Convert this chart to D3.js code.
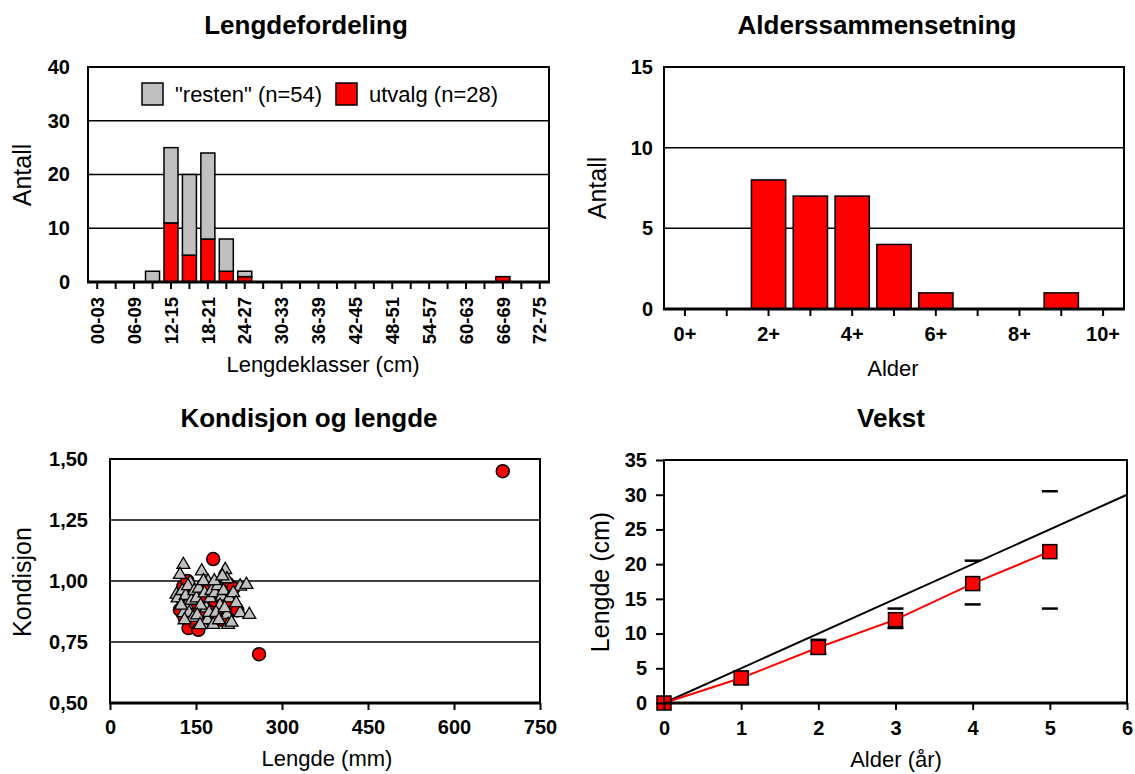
<!DOCTYPE html>
<html>
<head>
<meta charset="utf-8">
<script src="https://cdn.jsdelivr.net/npm/d3@7"></script>
<style>
    body { margin: 0; background: #fff; }
    svg text { font-family: "Liberation Sans", Arial, sans-serif; fill: #000; }
    .tick text { font-weight: bold; font-size: 20px; }
    .axis-title { font-size: 22px; }
    .axis-title.vertical { font-size: 25px; }
    .chart-title { font-weight: bold; font-size: 26px; }
    .legend-text { font-size: 22px; }
</style>
</head>
<body>
<svg id="chart" width="1135" height="774"></svg>
<script>
(function () {
    "use strict";

    // length distribution, 3 cm classes
    const lengthClasses = ["00-03", "03-06", "06-09", "09-12", "12-15", "15-18", "18-21", "21-24", "24-27",
        "27-30", "30-33", "33-36", "36-39", "39-42", "42-45", "45-48", "48-51", "51-54", "54-57",
        "57-60", "60-63", "63-66", "66-69", "69-72", "72-75"];
    const utvalgCounts = [0, 0, 0, 0, 11, 5, 8, 2, 1, 0, 0, 0, 0, 0, 0, 0, 0, 0, 0, 0, 0, 0, 1, 0, 0];
    const restenCounts = [0, 0, 0, 2, 14, 15, 16, 6, 1, 0, 0, 0, 0, 0, 0, 0, 0, 0, 0, 0, 0, 0, 0, 0, 0];
    const countTicks = [0, 10, 20, 30, 40];

    // age composition
    const ageClasses = ["0+", "1+", "2+", "3+", "4+", "5+", "6+", "7+", "8+", "9+", "10+"];
    const ageCounts = [0, 0, 8, 7, 7, 4, 1, 0, 0, 1, 0];
    const ageTicks = [0, 5, 10, 15];

    // condition vs length (mm)
    const utvalgLength = [137, 122, 128, 125, 132, 140, 145, 130, 135, 143, 148,
        154, 160, 165, 170, 175,
        180, 200, 186, 209, 192, 197, 205, 183,
        215, 222, 260, 685];
    const utvalgCond = [0.807, 0.882, 0.978, 0.93, 0.95, 0.86, 0.90, 0.85, 1.00, 0.94, 0.83,
        0.80, 0.92, 0.86, 0.97, 0.90,
        1.09, 0.89, 0.862, 0.90, 0.95, 0.84, 0.99, 0.92,
        0.97, 0.88, 0.70, 1.45];
    const restenLength = [116, 118,
        128, 122, 140, 134, 128, 126, 132, 138, 142, 145, 130, 136, 147, 124,
        160, 171, 151, 168, 162, 155, 158, 165, 175, 152, 170, 177, 163, 157, 173,
        201, 204, 183, 195, 204, 180, 206, 188, 192, 185, 198, 208, 182, 190, 200, 196,
        227, 215, 227, 212, 220, 238,
        243];
    const restenCond = [0.945, 0.93,
        1.067, 1.026, 0.993, 0.903, 0.869, 0.96, 0.94, 0.87, 0.92, 0.85, 0.84, 0.98, 0.96, 0.90,
        1.04, 0.998, 0.93, 0.889, 0.821, 0.97, 0.90, 0.95, 0.93, 0.86, 0.84, 0.96, 1.00, 0.82, 0.87,
        1.046, 1.008, 0.951, 0.937, 0.862, 0.821, 0.821, 0.98, 0.90, 0.87, 0.96, 0.93, 1.00, 0.84, 0.89, 1.02,
        0.978, 0.951, 0.869, 0.83, 0.91, 0.985,
        0.862];
    const condTicks = [0.5, 0.75, 1, 1.25, 1.5];
    const mmTicks = [0, 150, 300, 450, 600, 750];

    // growth
    const growthAge = [0, 1, 2, 3, 4, 5];
    const growthMean = [0, 3.6, 8.0, 12.0, 17.2, 21.8];
    const growthLow = [null, 2.8, 7.1, 10.8, 14.2, 13.6];
    const growthHigh = [null, 4.5, 9.1, 13.6, 20.5, 30.5];
    const refAge = [0, 6];
    const refLength = [0, 30];
    const growthYTicks = [0, 5, 10, 15, 20, 25, 30, 35];
    const growthXTicks = [0, 1, 2, 3, 4, 5, 6];

    const RED = "#ff0000";
    const GREY = "#c0c0c0";

    const svg = d3.select("#chart");
    const no = d3.formatLocale({ decimal: ",", thousands: " ", grouping: [3], currency: ["", " kr"] });

    /**
     * draws the black frame of a plot area, with a heavier base line
     */
    let drawFrame = (p) => {
        svg.append("rect")
            .attr("x", p.left).attr("y", p.top)
            .attr("width", p.right - p.left).attr("height", p.bottom - p.top)
            .attr("fill", "none").attr("stroke", "#000").attr("stroke-width", 2);
        svg.append("line")
            .attr("x1", p.left - 1).attr("x2", p.right + 1)
            .attr("y1", p.bottom).attr("y2", p.bottom)
            .attr("stroke", "#000").attr("stroke-width", 3);
    };

    let drawGrid = (p, y, values) => {
        svg.append("g").selectAll("line").data(values).join("line")
            .attr("x1", p.left).attr("x2", p.right)
            .attr("y1", (d) => y(d)).attr("y2", (d) => y(d))
            .attr("stroke", "#000").attr("stroke-width", 1.5);
    };

    let styleAxis = (g) => {
        g.select(".domain").remove();
        g.selectAll(".tick line").attr("stroke", "#000").attr("stroke-width", 2);
        g.attr("font-family", null).attr("font-size", null);
    };

    let title = (text, x, y) => {
        svg.append("text").attr("class", "chart-title").attr("x", x).attr("y", y)
            .attr("text-anchor", "middle").text(text);
    };

    let xTitle = (text, x, y) => {
        svg.append("text").attr("class", "axis-title").attr("x", x).attr("y", y)
            .attr("text-anchor", "middle").text(text);
    };

    let yTitle = (text, x, y) => {
        svg.append("text").attr("class", "axis-title vertical")
            .attr("transform", `translate(${x}, ${y}) rotate(-90)`)
            .attr("text-anchor", "middle").attr("dy", "0.35em").text(text);
    };

    // ------------------------------------------------------------ Lengdefordeling
    const p1 = { left: 88, right: 549, top: 67, bottom: 282 };
    const x1 = d3.scaleBand().domain(lengthClasses).range([p1.left, p1.right]).paddingInner(0.24).paddingOuter(0.12);
    const y1 = d3.scaleLinear().domain([0, 40]).range([p1.bottom, p1.top]);

    drawGrid(p1, y1, [10, 20, 30]);

    const stackRows = lengthClasses.map((c, i) => ({ klass: c, utvalg: utvalgCounts[i], resten: restenCounts[i] }));
    const stacked = d3.stack().keys(["utvalg", "resten"])(stackRows);
    const stackColors = { utvalg: RED, resten: GREY };

    svg.append("g").selectAll("g").data(stacked).join("g")
        .attr("fill", (s) => stackColors[s.key])
        .selectAll("rect")
        .data((s) => s.filter((d) => d[1] > d[0]))
        .join("rect")
        .attr("x", (d) => x1(d.data.klass))
        .attr("width", x1.bandwidth())
        .attr("y", (d) => y1(d[1]))
        .attr("height", (d) => y1(d[0]) - y1(d[1]))
        .attr("stroke", "#000").attr("stroke-width", 1.5);

    drawFrame(p1);

    svg.append("g").attr("transform", `translate(0, ${p1.bottom})`)
        .call(d3.axisBottom(x1).tickSize(7).tickFormat((d, i) => (i % 2 === 0 ? d : "")))
        .call(styleAxis)
        .call((g) => g.selectAll(".tick text")
            .attr("transform", "rotate(-90)")
            .attr("text-anchor", "end")
            .attr("x", -15).attr("y", 0).attr("dy", "0.36em")
            .style("font-size", "18.5px"));

    svg.append("g").attr("transform", `translate(${p1.left}, 0)`)
        .call(d3.axisLeft(y1).tickValues(countTicks).tickSize(0).tickPadding(18))
        .call(styleAxis);

    // legend
    const legend1 = [
        { label: "\"resten\" (n=54)", color: GREY, x: 142 },
        { label: "utvalg (n=28)", color: RED, x: 336 },
    ];
    const lg = svg.append("g").selectAll("g").data(legend1).join("g")
        .attr("transform", (d) => `translate(${d.x}, 83)`);
    lg.append("rect").attr("width", 21).attr("height", 22)
        .attr("fill", (d) => d.color).attr("stroke", "#000").attr("stroke-width", 1.5);
    lg.append("text").attr("class", "legend-text").attr("x", 33).attr("y", 19).text((d) => d.label);

    title("Lengdefordeling", 306, 34);
    xTitle("Lengdeklasser (cm)", 323, 372);
    yTitle("Antall", 22, 175);

    // ------------------------------------------------------------ Alderssammensetning
    const p2 = { left: 664, right: 1124, top: 67, bottom: 309 };
    const x2 = d3.scaleBand().domain(ageClasses).range([p2.left, p2.right]).paddingInner(0.18).paddingOuter(0.09);
    const y2 = d3.scaleLinear().domain([0, 15]).range([p2.bottom, p2.top]);

    drawGrid(p2, y2, [5, 10]);

    svg.append("g").selectAll("rect")
        .data(ageClasses.map((c, i) => ({ age: c, n: ageCounts[i] })).filter((d) => d.n > 0))
        .join("rect")
        .attr("x", (d) => x2(d.age))
        .attr("width", x2.bandwidth())
        .attr("y", (d) => y2(d.n))
        .attr("height", (d) => y2(0) - y2(d.n))
        .attr("fill", RED).attr("stroke", "#000").attr("stroke-width", 1.5);

    drawFrame(p2);

    svg.append("g").attr("transform", `translate(0, ${p2.bottom})`)
        .call(d3.axisBottom(x2).tickSize(7).tickPadding(11).tickFormat((d, i) => (i % 2 === 0 ? d : "")))
        .call(styleAxis);

    svg.append("g").attr("transform", `translate(${p2.left}, 0)`)
        .call(d3.axisLeft(y2).tickValues(ageTicks).tickSize(0).tickPadding(11))
        .call(styleAxis);

    title("Alderssammensetning", 877, 34);
    xTitle("Alder", 893, 376);
    yTitle("Antall", 597, 188);

    // ------------------------------------------------------------ Kondisjon og lengde
    const p3 = { left: 110, right: 540, top: 459, bottom: 703 };
    const x3 = d3.scaleLinear().domain([0, 750]).range([p3.left, p3.right]);
    const y3 = d3.scaleLinear().domain([0.5, 1.5]).range([p3.bottom, p3.top]);

    drawGrid(p3, y3, [0.75, 1, 1.25]);

    svg.append("g").selectAll("circle").data(utvalgLength.map((l, i) => [l, utvalgCond[i]]))
        .join("circle")
        .attr("cx", (d) => x3(d[0])).attr("cy", (d) => y3(d[1])).attr("r", 6.5)
        .attr("fill", RED).attr("stroke", "#000").attr("stroke-width", 1.5);

    const tri = d3.symbol(d3.symbolTriangle, 72);
    svg.append("g").selectAll("path").data(restenLength.map((l, i) => [l, restenCond[i]]))
        .join("path")
        .attr("d", tri)
        .attr("transform", (d) => `translate(${x3(d[0])}, ${y3(d[1])})`)
        .attr("fill", GREY).attr("stroke", "#000").attr("stroke-width", 1.3);

    drawFrame(p3);

    svg.append("g").attr("transform", `translate(0, ${p3.bottom})`)
        .call(d3.axisBottom(x3).tickValues(mmTicks).tickSize(7).tickPadding(10))
        .call(styleAxis);

    svg.append("g").attr("transform", `translate(${p3.left}, 0)`)
        .call(d3.axisLeft(y3).tickValues(condTicks).tickSize(0).tickPadding(22).tickFormat(no.format(".2f")))
        .call(styleAxis);

    title("Kondisjon og lengde", 309, 427);
    xTitle("Lengde (mm)", 327, 766);
    yTitle("Kondisjon", 22, 582);

    // ------------------------------------------------------------ Vekst
    const p4 = { left: 664, right: 1127, top: 460, bottom: 703 };
    const x4 = d3.scaleLinear().domain([0, 6]).range([p4.left, p4.right]);
    const y4 = d3.scaleLinear().domain([0, 35]).range([p4.bottom, p4.top]);

    const line4 = d3.line().x((d) => x4(d[0])).y((d) => y4(d[1]));

    svg.append("path").datum(refAge.map((a, i) => [a, refLength[i]]))
        .attr("d", line4).attr("fill", "none").attr("stroke", "#000").attr("stroke-width", 2);

    svg.append("path").datum(growthAge.map((a, i) => [a, growthMean[i]]))
        .attr("d", line4).attr("fill", "none").attr("stroke", RED).attr("stroke-width", 2);

    // range caps (min / max)
    const caps = [];
    growthAge.forEach((a, i) => {
        if (growthLow[i] != null) caps.push([a, growthLow[i]]);
        if (growthHigh[i] != null) caps.push([a, growthHigh[i]]);
    });
    svg.append("g").selectAll("line").data(caps).join("line")
        .attr("x1", (d) => x4(d[0]) - 8).attr("x2", (d) => x4(d[0]) + 8)
        .attr("y1", (d) => y4(d[1])).attr("y2", (d) => y4(d[1]))
        .attr("stroke", "#000").attr("stroke-width", 2.5);

    svg.append("g").selectAll("rect").data(growthAge.map((a, i) => [a, growthMean[i]]))
        .join("rect")
        .attr("x", (d) => x4(d[0]) - 7).attr("y", (d) => y4(d[1]) - 7)
        .attr("width", 14).attr("height", 14)
        .attr("fill", RED).attr("stroke", "#000").attr("stroke-width", 1.5);

    drawFrame(p4);

    svg.append("g").attr("transform", `translate(0, ${p4.bottom})`)
        .call(d3.axisBottom(x4).tickValues(growthXTicks).tickSize(7).tickPadding(11).tickFormat(d3.format("d")))
        .call(styleAxis);

    svg.append("g").attr("transform", `translate(${p4.left}, 0)`)
        .call(d3.axisLeft(y4).tickValues(growthYTicks).tickSize(8).tickPadding(9))
        .call(styleAxis);

    title("Vekst", 891, 427);
    xTitle("Alder (år)", 896, 767);
    yTitle("Lengde (cm)", 600, 582);
})();
</script>
</body>
</html>
